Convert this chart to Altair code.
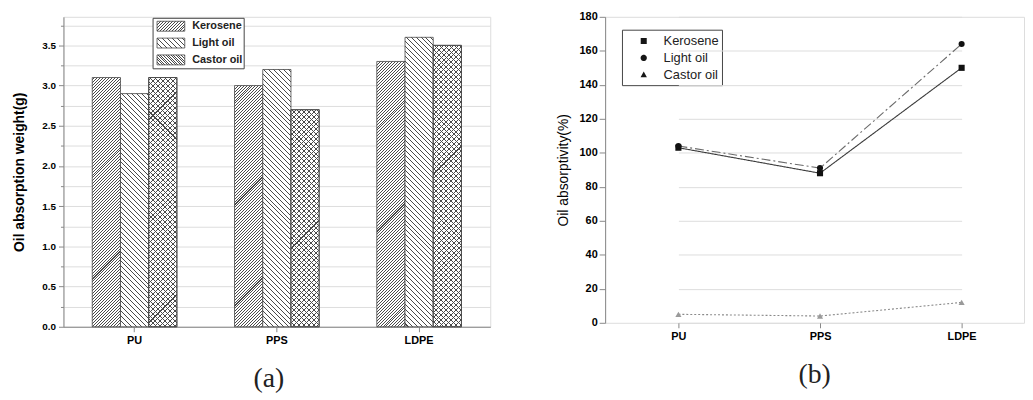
import json
import math
import altair as alt
import pandas as pd

# ---------------- data ----------------
polymers = ["PU", "PPS", "LDPE"]
oils = ["Kerosene", "Light oil", "Castor oil"]

weight_kerosene = [3.1, 3.0, 3.3]
weight_light_oil = [2.9, 3.2, 3.6]
weight_castor_oil = [3.1, 2.7, 3.5]

absorptivity_kerosene = [103, 88, 150]
absorptivity_light_oil = [104, 91, 164]
absorptivity_castor_oil = [5, 4, 12]

weight_ticks = [0.0, 0.25, 0.5, 0.75, 1.0, 1.25, 1.5, 1.75, 2.0, 2.25, 2.5,
                2.75, 3.0, 3.25, 3.5, 3.75]
absorptivity_ticks = [0, 20, 40, 60, 80, 100, 120, 140, 160, 180]

title_a = "Oil absorption weight(g)"
title_b = "Oil absorptivity(%)"
caption_a = "(a)"
caption_b = "(b)"

wdf = pd.DataFrame({
    "polymer": polymers * 3,
    "oil": [o for o in oils for _ in polymers],
    "value": weight_kerosene + weight_light_oil + weight_castor_oil,
})
adf = pd.DataFrame({
    "polymer": polymers * 3,
    "oil": [o for o in oils for _ in polymers],
    "value": absorptivity_kerosene + absorptivity_light_oil + absorptivity_castor_oil,
})

# ---------------- layout / style ----------------
A_W, A_H, A_MAX = 431, 313, 3.855
B_W, B_H = 423, 309
GAP = 116  # between the two plot frames
PAD_IN, PAD_OUT = 0.405, 0.2025
step = A_W / (len(polymers) - PAD_IN + 2 * PAD_OUT)
BAR_W = step * (1 - PAD_IN) / len(oils)

INK = "#4a4a4a"
PAPER = "#ffffff"
CLEAR = "rgba(255,255,255,0)"
R2 = math.sqrt(2)


def hatch(w, h, angle, gap, thick=0.72, ink=INK, paper=PAPER):
    """Linear gradient (bounding-box units) that draws parallel hatch lines."""
    th = math.radians(angle)
    dx, dy = math.cos(th), -math.sin(th)
    nbx, nby = dy / h, -dx / w
    corners = [(0, 0), (1, 0), (0, 1), (1, 1)]
    proj = [cx * nbx + cy * nby for cx, cy in corners]
    pmin, pmax = min(proj), max(proj)
    c0 = corners[proj.index(pmin)]
    n2 = nbx * nbx + nby * nby
    k = (pmax - pmin) / n2
    ext = w * abs(dy) + h * abs(dx)
    stops = [{"offset": 0, "color": paper}]
    n = int(ext / gap)
    half = thick / (2 * ext)
    for i in range(n):
        c = (i + 0.5) * gap / ext
        a, b = round(c - half, 6), round(c + half, 6)
        if a <= 0 or b >= 1:
            continue
        stops += [{"offset": a, "color": paper}, {"offset": a, "color": ink},
                  {"offset": b, "color": ink}, {"offset": b, "color": paper}]
    stops.append({"offset": 1, "color": paper})
    return {"gradient": "linear",
            "x1": round(c0[0], 6), "y1": round(c0[1], 6),
            "x2": round(c0[0] + k * nbx, 6), "y2": round(c0[1] + k * nby, 6),
            "stops": stops}


PATTERN = {  # angle of lines, perpendicular gap (45 deg, whole-pixel periods)
    "Kerosene": (45, 3 / R2),
    "Light oil": (135, 5 / R2),
    "Castor oil": (135, 5 / R2),
}
CROSS = (45, 5 / R2)

main_conds, over_conds = [], []
for o, vals in zip(oils, [weight_kerosene, weight_light_oil, weight_castor_oil]):
    for p, v in zip(polymers, vals):
        h = v * A_H / A_MAX
        ang, gap = PATTERN[o]
        test = f"datum.polymer === '{p}' && datum.oil === '{o}'"
        main_conds.append({"test": test, "value": hatch(BAR_W, h, ang, gap)})
        if o == "Castor oil":
            over_conds.append({"test": test,
                               "value": hatch(BAR_W, h, CROSS[0], CROSS[1], paper=CLEAR)})

# legend swatches 28 x 10 (symbol size 196 -> unit = 7 px)
SW, SH = 28.0, 10.0
LEG_PAT = {"Kerosene": (45, 3 / R2), "Light oil": (135, 5 / R2), "Castor oil": (135, 2.6 / R2)}
leg_range = [{"expr": json.dumps(hatch(SW, SH, *LEG_PAT[o]))} for o in oils]
SWATCH = "M-0.571,-0.714H3.429V0.714H-0.571Z"
ZW = "\u200b"  # keeps the line-chart legend apart from the bar-chart legend
oils_b = [o + ZW for o in oils]


def seg_path(x0, x1, seg, period):
    out, x = "", x0
    while x + seg <= x1 + 1e-9:
        out += f"M{x:.3f},0L{x + seg:.3f},0"
        x += period
    return out


def poly_path(cx, r, n):
    pts = [(cx + r * math.cos(2 * math.pi * i / n), r * math.sin(2 * math.pi * i / n))
           for i in range(n)]
    return "M" + "L".join(f"{x:.3f},{y:.3f}" for x, y in pts) + "Z"


# line-chart legend symbols: symbol size 256 -> unit = 8 px; marker centred at CX
CX, XL, XR = 1.31, -0.625, 3.25
legend_paths = [
    seg_path(XL, CX - 0.6, CX - 0.6 - XL, 9) + seg_path(CX + 0.6, XR, XR - CX - 0.6, 9)
    + f"M{CX - 0.38:.3f},-0.38L{CX + 0.38:.3f},-0.38L{CX + 0.38:.3f},0.38L{CX - 0.38:.3f},0.38Z",
    seg_path(XL, CX - 0.6, 0.12, 0.28) + seg_path(CX + 0.6, XR, 0.12, 0.28)
    + poly_path(CX, 0.4, 14),
    seg_path(XL, CX - 0.6, 0.55, 0.85) + seg_path(CX + 0.6, XR, 0.55, 0.85)
    + f"M{CX:.3f},-0.42L{CX + 0.4:.3f},0.3L{CX - 0.4:.3f},0.3Z",
]

# ---------------- chart (a) ----------------
xa = alt.X("polymer:N", sort=polymers,
           scale=alt.Scale(domain=polymers, paddingInner=PAD_IN, paddingOuter=PAD_OUT),
           axis=alt.Axis(title=None, labelAngle=0, labelFontSize=11, labelFontWeight="bold",
                         tickSize=5, labelPadding=3))
xoff = alt.XOffset("oil:N", sort=oils, scale=alt.Scale(domain=oils, paddingInner=0, paddingOuter=0))
ya = alt.Y("value:Q", scale=alt.Scale(domain=[0, A_MAX], nice=False, zero=True),
           axis=alt.Axis(title=title_a, titleFontWeight="bold", titleFontSize=14,
                         titlePadding=15, values=weight_ticks,
                         labelExpr="(datum.value * 4) % 2 === 0 ? format(datum.value, '.1f') : ''",
                         tickSize={"condition": {"test": "(datum.value * 4) % 2 !== 0", "value": 3},
                                   "value": 5},
                         labelFontSize=10, labelFontWeight="bold", labelPadding=3))

base_a = alt.Chart(wdf).encode(x=xa, xOffset=xoff, y=ya)

bars = base_a.mark_bar(stroke="#444", strokeWidth=0.8).encode(
    fill={"condition": main_conds, "value": PAPER})
cross = base_a.transform_filter(alt.datum.oil == "Castor oil").mark_bar(
    stroke="#444", strokeWidth=0.8).encode(fill={"condition": over_conds, "value": CLEAR})

legend_a = base_a.mark_bar(opacity=0).encode(
    fill=alt.Fill("oil:N", sort=oils, scale=alt.Scale(domain=oils, range=leg_range),
                  legend=alt.Legend(orient="none", legendX=90, legendY=1, title=None,
                                    padding=1, rowPadding=2, symbolSize=196,
                                    symbolType=SWATCH, labelFont="Liberation Sans",
                                    labelFontSize=11, labelFontWeight="bold",
                                    labelColor="#222", labelOffset=24, symbolOffset=0,
                                    symbolOpacity=1, strokeColor="#444", fillColor="white",
                                    symbolStrokeColor="#444", symbolStrokeWidth=0.8)))

# legend of the line chart (b); placed over panel (b)
legend_b = base_a.transform_calculate(oil_b=f"datum.oil + '{ZW}'").mark_point(
    filled=True, opacity=0).encode(
    fill=alt.value("#161616"), stroke=alt.value("#555"), strokeWidth=alt.value(1),
    shape=alt.Shape("oil_b:N", sort=oils_b, scale=alt.Scale(domain=oils_b, range=legend_paths),
                    legend=alt.Legend(orient="none", legendX=A_W + GAP + 17, legendY=13,
                                      title=None, padding=3, rowPadding=1, symbolSize=256,
                                      labelFont="Liberation Sans", labelFontSize=13,
                                      labelColor="#222", labelOffset=22, symbolOffset=0,
                                      symbolOpacity=1, symbolStrokeColor="#555",
                                      symbolStrokeWidth=1, strokeColor="#444",
                                      fillColor="white")))

chart_a = alt.layer(bars, cross, legend_a, legend_b).properties(
    width=A_W, height=A_H,
    title=alt.TitleParams(caption_a, orient="bottom", font="Liberation Serif", fontSize=28,
                          fontWeight="normal", color="#222", offset=20, dx=-8))

# ---------------- chart (b) ----------------
xb = alt.X("polymer:N", sort=polymers,
           scale=alt.Scale(type="point", domain=polymers, range=[74, 360], padding=0),
           axis=alt.Axis(title=None, labelAngle=0, labelFontSize=11, labelFontWeight="bold",
                         tickSize=5, labelPadding=3, domain=False))
yb = alt.Y("value:Q", scale=alt.Scale(domain=[0, 180], nice=False),
           axis=alt.Axis(title=title_b, titleFontWeight="normal", titleFontSize=14,
                         titlePadding=9, values=absorptivity_ticks, format="d",
                         labelFontSize=11, labelFontWeight="bold", tickSize=6, labelPadding=2))

base_b = alt.Chart(adf).encode(x=xb, y=yb)

lines = base_b.mark_line(strokeWidth=1.1).encode(
    stroke=alt.Stroke("oil:N", sort=oils,
                      scale=alt.Scale(domain=oils, range=["#3a3a3a", "#6a6a6a", "#8a8a8a"]),
                      legend=None),
    strokeDash=alt.StrokeDash("oil:N", sort=oils,
                              scale=alt.Scale(domain=oils, range=[[1, 0], [9, 3, 2, 3], [2, 2]]),
                              legend=None))
points = base_b.mark_point(filled=True, opacity=1, size=38).encode(
    shape={"condition": [{"test": f"datum.oil === '{oils[0]}'", "value": "square"},
                         {"test": f"datum.oil === '{oils[1]}'", "value": "circle"}],
           "value": "triangle-up"},
    color=alt.Color("oil:N", sort=oils,
                    scale=alt.Scale(domain=oils, range=["#111", "#111", "#9a9a9a"]),
                    legend=None))

chart_b = alt.layer(lines, points).properties(
    width=B_W, height=B_H,
    title=alt.TitleParams(caption_b, orient="bottom", font="Liberation Serif", fontSize=28,
                          fontWeight="normal", color="#222", offset=20))

chart = alt.hconcat(chart_a, chart_b, spacing=GAP, bounds="flush").resolve_scale(
    fill="independent", shape="independent", color="independent",
    stroke="independent", strokeDash="independent"
).resolve_legend(fill="independent", shape="independent").properties(
    padding={"left": 4, "top": 0, "right": 0, "bottom": 0}
).configure_view(stroke="#333", strokeWidth=1.2).configure_axis(
    labelFont="Liberation Sans", titleFont="Liberation Sans", labelColor="#222",
    titleColor="#222", domainColor="#333", domainWidth=1.2, tickColor="#333", grid=False
).configure(background="white")

chart.save("out.html", embed_options={"renderer": "svg", "actions": False})
